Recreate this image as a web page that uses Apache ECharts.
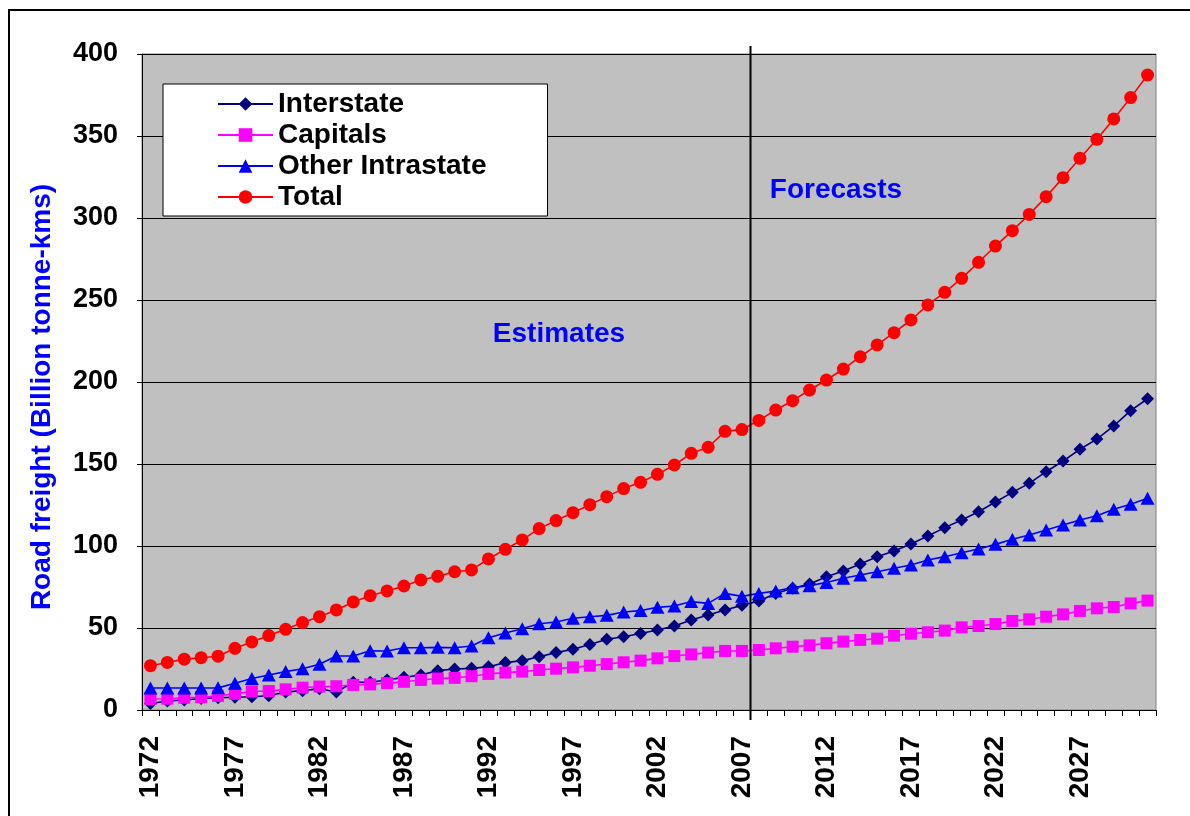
<!DOCTYPE html>
<html><head><meta charset="utf-8">
<script src="https://cdn.jsdelivr.net/npm/echarts@6/dist/echarts.min.js"></script>
<style>html,body{margin:0;padding:0;background:#fff}#c{width:1190px;height:816px}</style>
</head><body><div id="c"></div>
<script>
const years = ['1972','1973','1974','1975','1976','1977','1978','1979','1980','1981',
  '1982','1983','1984','1985','1986','1987','1988','1989','1990','1991',
  '1992','1993','1994','1995','1996','1997','1998','1999','2000','2001',
  '2002','2003','2004','2005','2006','2007','2008','2009','2010','2011',
  '2012','2013','2014','2015','2016','2017','2018','2019','2020','2021',
  '2022','2023','2024','2025','2026','2027','2028','2029','2030','2031'];

const interstate = [4.0,5.5,6.1,7.0,7.5,7.8,8.1,8.7,11.0,11.8,
  13.0,11.0,16.9,16.9,18.3,19.9,21.3,24.0,25.0,25.4,
  26.4,28.9,30.1,32.5,35.0,37.0,40.0,43.1,44.7,46.7,
  48.8,51.2,54.9,57.9,61.0,63.8,66.5,71.1,74.2,76.8,
  81.3,84.8,89.0,93.5,97.0,101.2,106.1,111.2,115.9,120.9,
  126.8,132.7,138.2,145.3,151.8,159.0,165.2,173.2,182.5,189.8];

const capitals = [6.7,6.9,7.5,7.8,8.6,9.9,11.3,11.6,12.6,13.6,
  14.3,14.5,15.3,15.6,16.4,17.2,18.3,19.2,19.6,20.6,
  22.0,22.8,23.4,24.4,25.2,26.0,27.0,28.0,29.1,30.1,
  31.5,32.9,33.9,35.0,36.0,36.0,36.6,37.6,38.6,39.4,
  40.7,41.7,42.7,43.5,45.3,46.5,47.4,48.4,50.4,51.2,
  52.4,54.3,55.3,56.9,58.3,60.4,62.0,62.8,65.0,66.7];

const otherIntrastate = [13.4,13.4,13.4,13.4,13.5,16.3,19.2,21.3,23.4,25.2,
  27.9,32.9,32.9,36.1,36.0,38.0,38.0,38.2,38.0,39.0,
  44.1,47.0,49.6,52.6,53.7,55.9,56.9,57.7,59.8,60.6,
  62.6,63.4,66.1,65.0,71.1,69.3,71.1,72.6,74.6,75.8,
  77.8,80.3,82.3,84.3,86.4,88.4,91.5,93.5,95.9,98.2,
  101.0,104.1,106.7,109.8,112.8,115.9,118.5,122.4,125.4,129.1];

const total = [27.0,29.0,31.0,31.9,32.8,37.6,41.5,45.4,49.2,53.3,
  56.9,61.0,65.9,69.7,72.6,75.6,79.3,81.5,84.3,85.4,
  92.1,98.0,103.7,110.6,115.5,120.3,125.2,130.1,135.0,138.8,
  143.7,149.4,156.5,160.2,169.9,171.0,176.6,182.9,188.6,195.1,
  201.2,207.9,215.4,222.6,230.1,237.8,247.0,254.7,263.2,273.0,
  282.9,292.3,302.2,313.0,324.6,336.4,348.0,360.4,373.4,387.2];

const yTicks = {min: 0, max: 400, interval: 50};
const seriesNames = ['Interstate','Capitals','Other Intrastate','Total'];
const yTitle = 'Road freight (Billion tonne-kms)';

const FONT = '"Liberation Sans", Arial, Helvetica, sans-serif';
const chart = echarts.init(document.getElementById('c'), null, {renderer: 'canvas'});

function mk(name, data, color, symbol, size) {
  return {
    name: name, type: 'line', data: data,
    symbol: symbol, symbolSize: size, showAllSymbol: true,
    lineStyle: {color: color, width: 1.6},
    itemStyle: {color: color},
    emphasis: {disabled: true},
    animation: false
  };
}

chart.setOption({
  animation: false,
  backgroundColor: '#ffffff',
  textStyle: {fontFamily: FONT},
  grid: {left: 142, right: 34, top: 54, bottom: 106, show: true,
    backgroundColor: '#C0C0C0', borderColor: '#808080', borderWidth: 1},
  legend: {
    orient: 'vertical', left: 163, top: 84,
    backgroundColor: '#ffffff', borderColor: '#000000', borderWidth: 1,
    padding: [5, 61, 4, 54],
    itemWidth: 55, itemHeight: 17, itemGap: 1,
    textStyle: {fontFamily: FONT, fontSize: 28, fontWeight: 'bold', color: '#000', lineHeight: 30},
    data: seriesNames
  },
  xAxis: {
    type: 'category', data: years, boundaryGap: true,
    axisLine: {lineStyle: {color: '#000', width: 1}},
    axisTick: {show: true, interval: 0, length: 6, lineStyle: {color: '#000'}},
    axisLabel: {interval: 4, rotate: 90, margin: 26, fontFamily: FONT, fontSize: 28,
      fontWeight: 'bold', color: '#000'},
    splitLine: {show: false}
  },
  yAxis: {
    type: 'value', min: yTicks.min, max: yTicks.max, interval: yTicks.interval,
    axisLine: {show: true, lineStyle: {color: '#000', width: 1}},
    axisTick: {show: true, length: 5, lineStyle: {color: '#000'}},
    axisLabel: {margin: 24, fontFamily: FONT, fontSize: 27, fontWeight: 'bold', color: '#000'},
    splitLine: {show: true, lineStyle: {color: '#000', width: 1}}
  },
  series: [
    mk(seriesNames[0], interstate, '#000080', 'diamond', [13, 13]),
    mk(seriesNames[1], capitals, '#FF00FF', 'rect', [12, 12]),
    mk(seriesNames[2], otherIntrastate, '#0000FF', 'triangle', [14, 13]),
    mk(seriesNames[3], total, '#FF0000', 'circle', 13)
  ]
});

const xa = chart.convertToPixel({xAxisIndex: 0}, '2007');
const xb = chart.convertToPixel({xAxisIndex: 0}, '2008');
const xv = Math.round((xa + xb) / 2) + 0.5;
const yTop = chart.convertToPixel({yAxisIndex: 0}, 400) - 8;
const yBot = chart.convertToPixel({yAxisIndex: 0}, 0) + 10;

chart.setOption({
  graphic: [
    {type: 'rect', silent: true, z: 100,
      shape: {x: 9, y: 10, width: 1300, height: 1000},
      style: {fill: 'none', stroke: '#000', lineWidth: 2}},
    {type: 'line', silent: true, z: 100,
      shape: {x1: xv, y1: yTop, x2: xv, y2: yBot},
      style: {stroke: '#000', lineWidth: 2}},
    {type: 'text', silent: true, z: 100, x: 559, y: 334,
      style: {text: 'Estimates', fill: '#0000FF', font: 'bold 28px ' + FONT,
        textAlign: 'center', textVerticalAlign: 'middle'}},
    {type: 'text', silent: true, z: 100, x: 836, y: 190,
      style: {text: 'Forecasts', fill: '#0000FF', font: 'bold 28px ' + FONT,
        textAlign: 'center', textVerticalAlign: 'middle'}},
    {type: 'text', silent: true, z: 100, x: 42, y: 397, rotation: Math.PI / 2,
      style: {text: yTitle, fill: '#0000FF', font: 'bold 28px ' + FONT,
        textAlign: 'center', textVerticalAlign: 'middle'}}
  ]
});
</script>
</body></html>
